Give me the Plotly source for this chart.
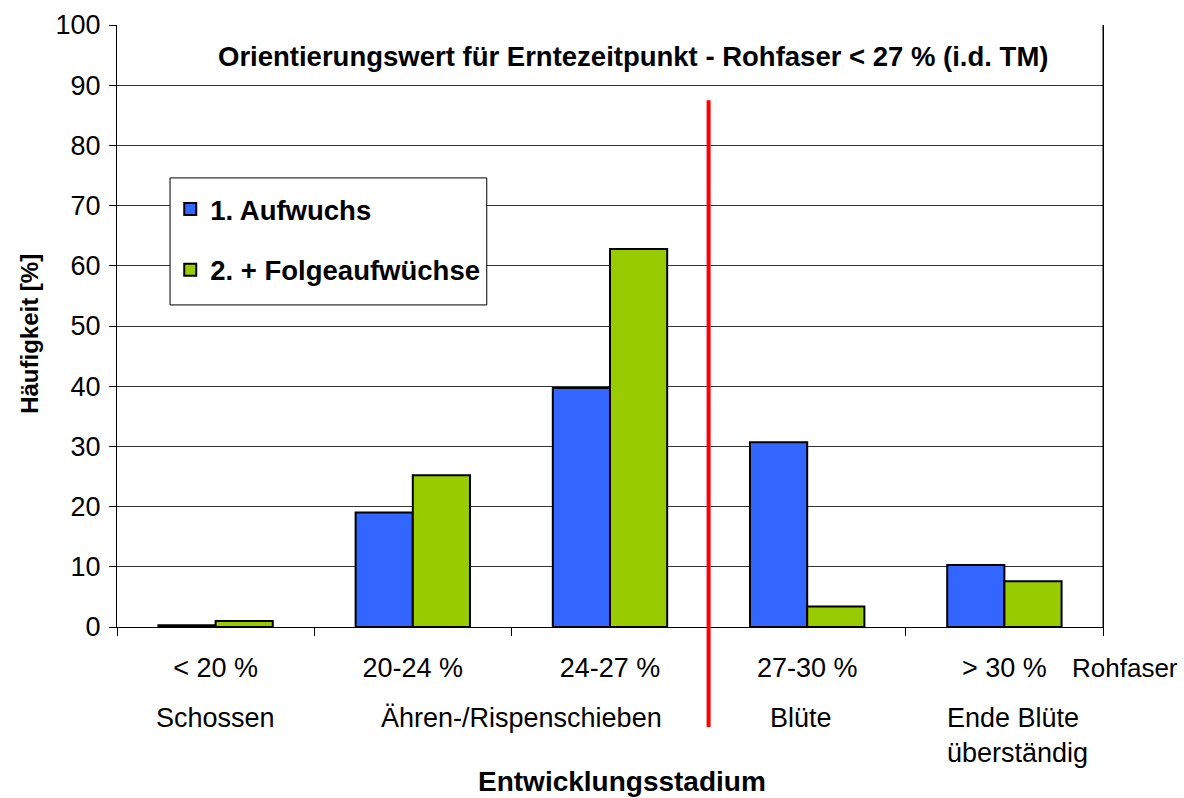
import plotly.graph_objects as go

categories = ["< 20 %", "20-24 %", "24-27 %", "27-30 %", "> 30 %"]
stages = ["Schossen", "Ähren-/Rispenschieben", "Blüte", "Ende Blüte<br>überständig"]
aufwuchs1 = [0.3, 19.0, 39.7, 30.7, 10.3]
folge = [1.0, 25.2, 62.8, 3.4, 7.6]
y_ticks = [0, 10, 20, 30, 40, 50, 60, 70, 80, 90, 100]

FONT = "Liberation Sans, Arial, sans-serif"

fig = go.Figure()
fig.add_trace(go.Bar(x=categories, y=aufwuchs1, name="<b>1. Aufwuchs</b>",
                     marker=dict(color="#3366FF", line=dict(color="black", width=2)),
                     legendgroup="a"))
fig.add_trace(go.Bar(x=categories, y=folge, name="<b>2. + Folgeaufwüchse</b>",
                     marker=dict(color="#99CC00", line=dict(color="black", width=2)),
                     legendgroup="b"))

fig.update_layout(
    width=1184, height=798,
    margin=dict(l=117, r=81, t=25, b=171),
    paper_bgcolor="white", plot_bgcolor="white",
    barmode="group", bargap=0.42, bargroupgap=0,
    font=dict(family=FONT, size=27, color="black"),
    legend=dict(x=0.054, y=0.735, xanchor="left", yanchor="top",
                borderwidth=0, bgcolor="rgba(0,0,0,0)",
                font=dict(size=27.5, color="black"), tracegroupgap=22,
                itemwidth=30),
    xaxis=dict(type="category", tickson="boundaries", ticks="outside", ticklen=8,
               tickcolor="black", showline=True, linecolor="black", linewidth=1,
               showgrid=False, tickfont=dict(size=27), mirror=False,
               ticklabelstandoff=17, automargin=False),
    yaxis=dict(range=[0, 100], tickvals=y_ticks, ticks="outside", ticklen=7,
               tickcolor="black", showline=True, linecolor="black", linewidth=1,
               showgrid=True, gridcolor="#333333", gridwidth=1, zeroline=False,
               mirror=True, tickfont=dict(size=27), ticklabelstandoff=3,
               automargin=False),
    showlegend=True,
)

# right border of plot area
fig.add_shape(type="line", xref="paper", yref="paper", x0=1, x1=1, y0=0, y1=1,
              line=dict(color="black", width=1))

# legend box
fig.add_shape(type="rect", xref="paper", yref="paper", x0=0.0538, x1=0.375,
              y0=0.535, y1=0.746, fillcolor="white", line=dict(color="black", width=1),
              layer="above")

# red threshold line
fig.add_shape(type="line", xref="x", yref="paper", x0=2.5, x1=2.5, y0=-0.166, y1=0.875,
              line=dict(color="#FF0000", width=4))

fig.add_annotation(text="<b>Orientierungswert für Erntezeitpunkt - Rohfaser < 27 % (i.d. TM)</b>",
                   xref="paper", yref="paper", x=0.523, y=0.947, showarrow=False,
                   font=dict(size=27.5), xanchor="center", yanchor="middle")

fig.add_annotation(text="Rohfaser", xref="paper", yref="paper", x=1.078, y=-0.068,
                   showarrow=False, font=dict(size=26), xanchor="right", yanchor="middle")

fig.add_annotation(text=stages[0], xref="x", yref="paper", x=0, y=-0.151,
                   showarrow=False, font=dict(size=27), yanchor="middle")
fig.add_annotation(text=stages[1], xref="x", yref="paper", x=1.55, y=-0.151,
                   showarrow=False, font=dict(size=27), yanchor="middle")
fig.add_annotation(text=stages[2], xref="x", yref="paper", x=2.97, y=-0.151,
                   showarrow=False, font=dict(size=27), yanchor="middle")
fig.add_annotation(text=stages[3], xref="x", yref="paper", x=3.7, y=-0.151,
                   showarrow=False, font=dict(size=27), yanchor="top", xanchor="left",
                   align="left", yshift=17)

# axis titles
fig.add_annotation(text="<b>Entwicklungsstadium</b>", xref="paper", yref="paper",
                   x=0.512, y=-0.2565, showarrow=False, font=dict(size=28),
                   xanchor="center", yanchor="middle")
fig.add_annotation(text="<b>Häufigkeit [%]</b>", xref="paper", yref="paper",
                   x=-0.0882, y=0.487, showarrow=False, font=dict(size=24),
                   textangle=-90, xanchor="center", yanchor="middle")

fig.write_html("out.html", config={"displayModeBar": False},
               post_script="document.body.style.margin='0';document.body.style.overflow='hidden';")
